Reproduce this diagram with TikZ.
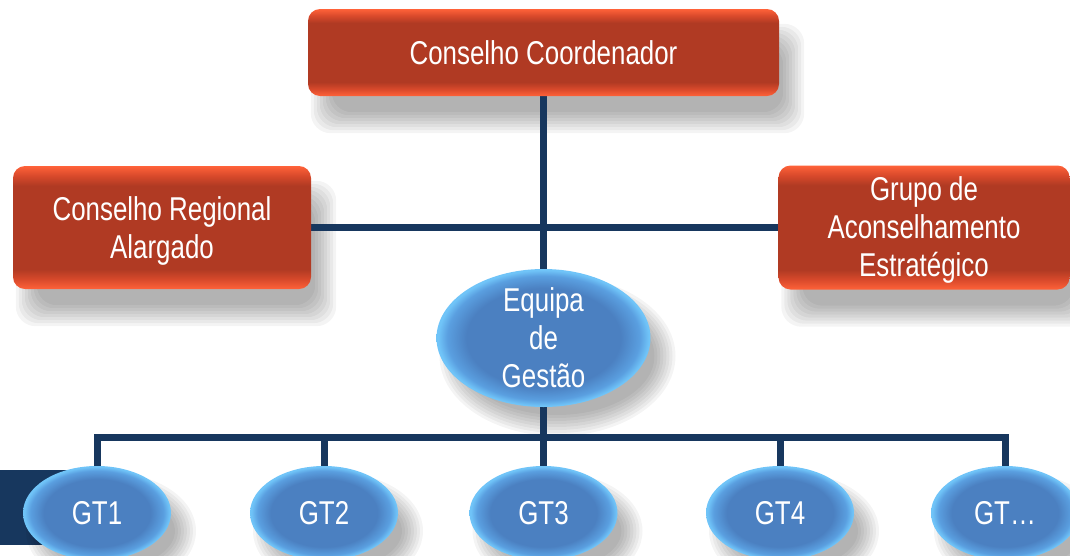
\documentclass[tikz,border=0pt]{standalone}
\usepackage{fontspec}
\setmainfont{Liberation Sans}[FakeStretch=0.785]
\usetikzlibrary{shapes.geometric,calc}
\definecolor{navy}{HTML}{17375E}
\definecolor{rl}{HTML}{FF6239}
\definecolor{rm}{HTML}{D8492B}
\definecolor{rd}{HTML}{B03A23}
\definecolor{bl}{HTML}{70C4F8}
\definecolor{bm}{HTML}{5A9FE0}
\definecolor{bc}{HTML}{4B80C1}
\pgfdeclareverticalshading{redbevel}{100bp}{color(0bp)=(rl); color(25bp)=(rl); color(29bp)=(rm); color(33bp)=(rd); color(67bp)=(rd); color(71bp)=(rm); color(75bp)=(rl); color(100bp)=(rl)}
\pgfdeclareradialshading{bluebevel}{\pgfpoint{0bp}{0bp}}{color(0bp)=(bc); color(18bp)=(bc); color(22.5bp)=(bm); color(24.6bp)=(bl); color(50bp)=(bl)}
\pgfdeclarelayer{shadowlayer}
\pgfdeclarelayer{linelayer}
\pgfsetlayers{shadowlayer,linelayer,main}
\tikzset{
  redbox/.style={rectangle, rounded corners=12pt, shade, shading=redbevel, text=white, align=center, inner sep=0pt, font=\fontsize{33}{38}\selectfont},
  blueell/.style={ellipse, shade, shading=bluebevel, inner sep=0pt, text=white, font=\fontsize{33}{38}\selectfont},
  elltext/.style={text=white, align=center, inner sep=0pt, font=\fontsize{33}{38}\selectfont},
  conn/.style={navy, line width=7pt},
}
\newcommand\boxshadow[1]{%
  \foreach \e in {-10,-7,...,11}{%
    \fill[black,opacity=0.045,rounded corners=20pt] ($(#1.north west)+(14-\e,26-\e)$) rectangle ($(#1.south east)+(14+\e,26+\e)$);}}
\newcommand\ellshadow[3]{%
  \foreach \e in {-10,-7,...,11}{%
    \fill[black,opacity=0.045] ($(#1.center)+(14,18)$) ellipse [x radius=#2+\e, y radius=#3+\e];}}
\begin{document}
\begin{tikzpicture}[x=1pt,y=-1pt]
\useasboundingbox (0,0) rectangle (1070,555);
\clip (0,0) rectangle (1070,555);
% nodes
\node[redbox, minimum width=471pt, minimum height=87pt] (cc) at (543.5,52.5) {\raisebox{-2pt}{Conselho Coordenador}};
\node[redbox, minimum width=298pt, minimum height=123pt] (cra) at (162,227.5) {\rule{0pt}{30pt}Conselho Regional\\Alargado};
\node[redbox, minimum width=291pt, minimum height=124pt] (gae) at (924,227.5) {\rule{0pt}{29pt}Grupo de\\Aconselhamento\\Estratégico};
\node[blueell, minimum width=214pt, minimum height=138pt] (eq) at (543.5,338) {};
\node[elltext] (eqt) at (eq.center) {Equipa\\de\\Gestão};
\node[blueell, minimum width=148pt, minimum height=94pt] (gt1) at (97,513) {GT1};
\node[blueell, minimum width=148pt, minimum height=94pt] (gt2) at (324,513) {GT2};
\node[blueell, minimum width=148pt, minimum height=94pt] (gt3) at (543.5,513) {GT3};
\node[blueell, minimum width=148pt, minimum height=94pt] (gt4) at (780,513) {GT4};
\node[blueell, minimum width=148pt, minimum height=94pt] (gt5) at (1005,513) {GT…};
\coordinate (bar) at (543.5,437);
% shadows
\begin{pgfonlayer}{shadowlayer}
  \fill[navy] (0,470) rectangle (100,545);
  \boxshadow{cc}
  \boxshadow{cra}
  \boxshadow{gae}
  \ellshadow{eq}{107}{69}
  \ellshadow{gt1}{74}{47}
  \ellshadow{gt2}{74}{47}
  \ellshadow{gt3}{74}{47}
  \ellshadow{gt4}{74}{47}
  \ellshadow{gt5}{74}{47}
\end{pgfonlayer}
% connectors
\begin{pgfonlayer}{linelayer}
  \draw[conn] (cc.south) -- (eq.north);
  \draw[conn] (cra.east) -- (gae.west);
  \draw[conn] (eq.south) -- (gt3.north);
  \draw[conn] (gt1.north) -- (gt1.north |- bar) -- (gt5.north |- bar) -- (gt5.north);
  \draw[conn] (gt2.north) -- (gt2.north |- bar);
  \draw[conn] (gt4.north) -- (gt4.north |- bar);
\end{pgfonlayer}
\end{tikzpicture}
\end{document}
